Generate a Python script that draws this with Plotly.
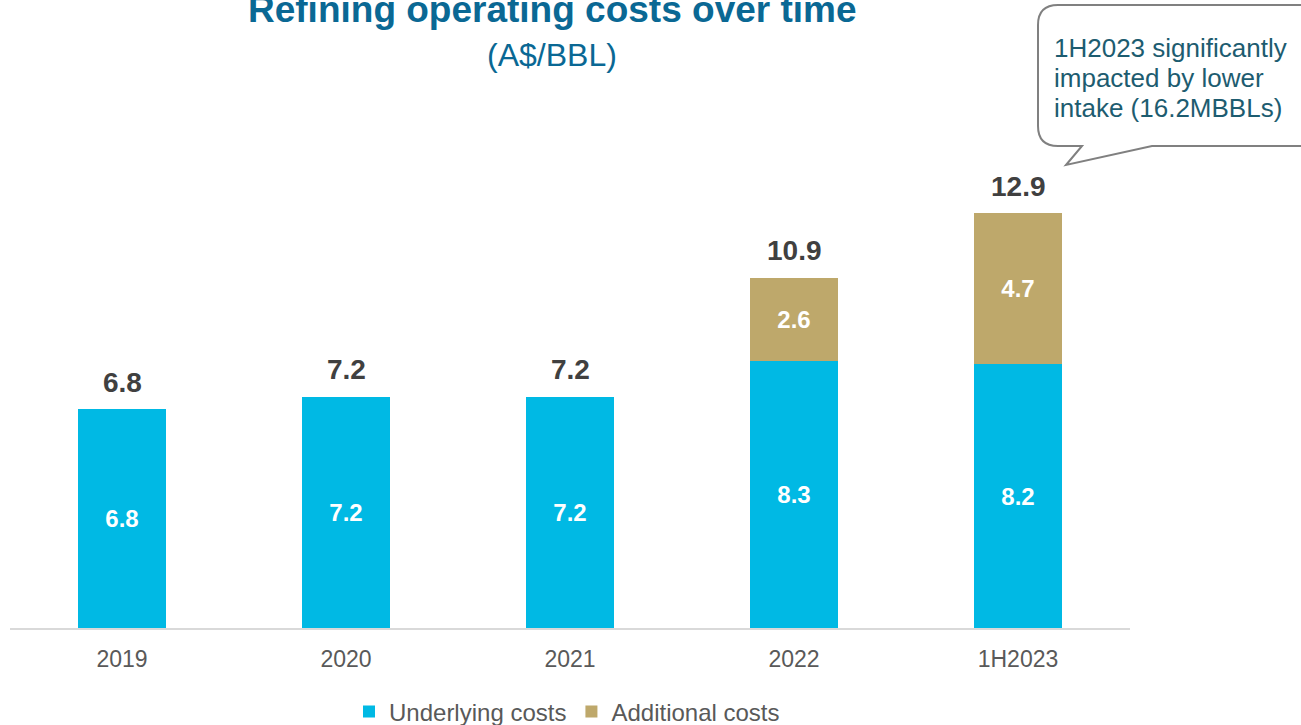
import plotly.graph_objects as go

# Refining operating costs, A$ per barrel
periods = ["2019", "2020", "2021", "2022", "1H2023"]
underlying = [6.8, 7.2, 7.2, 8.3, 8.2]
additional = [0.0, 0.0, 0.0, 2.6, 4.7]
totals = [round(u + a, 1) for u, a in zip(underlying, additional)]

title_text = "Refining operating costs over time"
subtitle_text = "(A$/BBL)"
note_lines = ["1H2023 significantly", "impacted by lower", "intake (16.2MBBLs)"]

BLUE = "#00B9E4"
TAN = "#BEA86B"
TEAL = "#0A6894"
NOTE = "#1D5C70"
GREY_TXT = "#595959"
DARK = "#404040"
FONT = "Liberation Sans, Arial, sans-serif"

# plot-area geometry in page pixels (used to place decorations in paper units)
W, H = 1301, 725
L, R, T, B = 10, 1130, 100, 628


def pxx(p):
    return (p - L) / (R - L)


def pxy(p):
    return (B - p) / (B - T)


fig = go.Figure()
fig.add_trace(go.Bar(
    x=periods, y=underlying, name="Underlying costs",
    marker=dict(color=BLUE, line=dict(width=0)),
    text=[f"{v:.1f}" for v in underlying],
    textposition="inside", insidetextanchor="middle",
    textfont=dict(family=FONT, size=24, color="white", weight="bold"),
    hoverinfo="skip",
))
fig.add_trace(go.Bar(
    x=periods, y=additional, name="Additional costs",
    marker=dict(color=TAN, line=dict(width=0)),
    text=[f"{v:.1f}" if v else "" for v in additional],
    textposition="inside", insidetextanchor="middle",
    textfont=dict(family=FONT, size=24, color="white", weight="bold"),
    hoverinfo="skip",
))

annotations = []
# stacked totals above each column (x given as category index)
for i, t in enumerate(totals):
    annotations.append(dict(
        x=i, y=t, xref="x", yref="y", text=f"{t:.1f}", showarrow=False,
        yanchor="middle", yshift=27,
        font=dict(family=FONT, size=28, color=DARK, weight="bold"),
    ))

# heading (its top runs slightly past the page edge)
annotations.append(dict(
    x=pxx(552), y=pxy(9), xref="paper", yref="paper", text=f"<b>{title_text}</b>",
    showarrow=False, xanchor="center", yanchor="middle",
    font=dict(family=FONT, size=37, color=TEAL),
))
annotations.append(dict(
    x=pxx(552), y=pxy(55), xref="paper", yref="paper", text=subtitle_text,
    showarrow=False, xanchor="center", yanchor="middle",
    font=dict(family=FONT, size=32, color=TEAL),
))

# speech-bubble note
for i, line in enumerate(note_lines):
    annotations.append(dict(
        x=pxx(1052), y=pxy(48 + 30 * i), xref="paper", yref="paper", text=line,
        showarrow=False, xanchor="left", yanchor="middle",
        font=dict(family=FONT, size=26, color=NOTE),
    ))


def pt(x, y):
    return f"{pxx(x):.5f},{pxy(y):.5f}"


bubble = (
    f"M {pt(1058, 5)} L {pt(1330, 5)} L {pt(1330, 146)} L {pt(1152, 146)} "
    f"L {pt(1066, 165)} L {pt(1082, 146)} L {pt(1058, 146)} "
    f"Q {pt(1038, 146)} {pt(1038, 126)} L {pt(1038, 25)} "
    f"Q {pt(1038, 5)} {pt(1058, 5)} Z"
)

fig.update_layout(
    width=W, height=H,
    margin=dict(l=L, r=W - R, t=T, b=H - B, autoexpand=False),
    paper_bgcolor="white", plot_bgcolor="white",
    barmode="stack", bargap=0.603,
    showlegend=True,
    legend=dict(
        orientation="h", x=pxx(567), y=pxy(712), xanchor="center", yanchor="middle",
        font=dict(family=FONT, size=24, color=GREY_TXT),
        itemwidth=30, traceorder="normal",
    ),
    xaxis=dict(
        type="category", categoryorder="array", categoryarray=periods,
        range=[-0.5, len(periods) - 0.5],
        showline=True, linecolor="#D9D9D9", linewidth=2,
        showgrid=False, zeroline=False, ticks="",
        tickfont=dict(family=FONT, size=23, color=GREY_TXT),
        ticklabelstandoff=9,
    ),
    yaxis=dict(visible=False, range=[0, (B - T) / 32.15], showgrid=False, zeroline=False),
    annotations=annotations,
    shapes=[dict(
        type="path", path=bubble, xref="paper", yref="paper",
        fillcolor="white", line=dict(color="#808080", width=2), layer="above",
    )],
)

fig.write_html("out.html")
